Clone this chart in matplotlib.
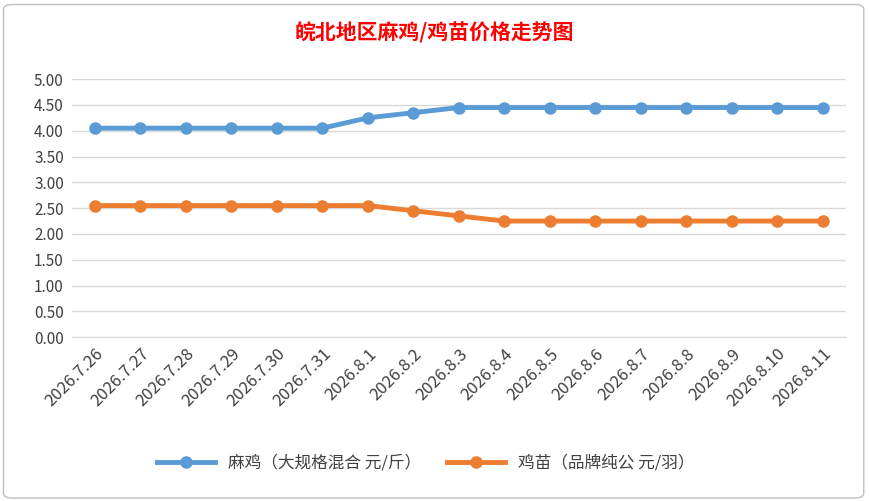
import matplotlib
matplotlib.use("Agg")
import matplotlib.pyplot as plt
from matplotlib.patches import FancyBboxPatch

plt.rcParams['font.family'] = ['Noto Sans CJK SC', 'DejaVu Sans']

dates = ["2026.7.26","2026.7.27","2026.7.28","2026.7.29","2026.7.30","2026.7.31",
         "2026.8.1","2026.8.2","2026.8.3","2026.8.4","2026.8.5","2026.8.6","2026.8.7",
         "2026.8.8","2026.8.9","2026.8.10","2026.8.11"]
maji = [4.05,4.05,4.05,4.05,4.05,4.05,4.25,4.35,4.45,4.45,4.45,4.45,4.45,4.45,4.45,4.45,4.45]
jimiao = [2.55,2.55,2.55,2.55,2.55,2.55,2.55,2.45,2.35,2.25,2.25,2.25,2.25,2.25,2.25,2.25,2.25]
yticks = [0,0.5,1,1.5,2,2.5,3,3.5,4,4.5,5]

fig = plt.figure(figsize=(8.69,5.01), dpi=100)
fig.patches.append(FancyBboxPatch((0.004,0.006),0.99,0.985,boxstyle="round,pad=0,rounding_size=0.01",
                                  transform=fig.transFigure, fill=False, ec="#bfbfbf", lw=1))
ax = fig.add_axes([0.083, 0.327, 0.89, 0.515])
x = range(len(dates))
ax.plot(x, maji, color="#5b9bd5", lw=3.5, marker="o", ms=8, label="麻鸡（大规格混合 元/斤）")
ax.plot(x, jimiao, color="#ed7d31", lw=3.5, marker="o", ms=8, label="鸡苗（品牌纯公 元/羽）")
ax.set_ylim(0,5)
ax.set_xlim(-0.5, len(dates)-0.5)
ax.set_yticks(yticks)
ax.set_yticklabels([f"{v:.2f}" for v in yticks], fontsize=11, color="#404040")
ax.set_xticks(list(x))
ax.set_xticklabels(dates, rotation=45, ha="right", rotation_mode="anchor", fontsize=12, color="#404040")
ax.grid(axis="y", color="#d9d9d9", lw=1)
ax.set_axisbelow(True)
for s in ["top","right","left"]:
    ax.spines[s].set_visible(False)
ax.spines["bottom"].set_color("#d9d9d9")
ax.tick_params(length=0, pad=6)
fig.text(0.5, 0.935, "皖北地区麻鸡/鸡苗价格走势图", ha="center", va="center",
         fontsize=15, fontweight="bold", color="#ff0000")
fig.legend(loc="center", bbox_to_anchor=(0.49, 0.075), ncol=2, frameon=False, fontsize=12,
           labelcolor="#404040", handlelength=3.5, columnspacing=1.5)
fig.savefig("out.png", dpi=100)
